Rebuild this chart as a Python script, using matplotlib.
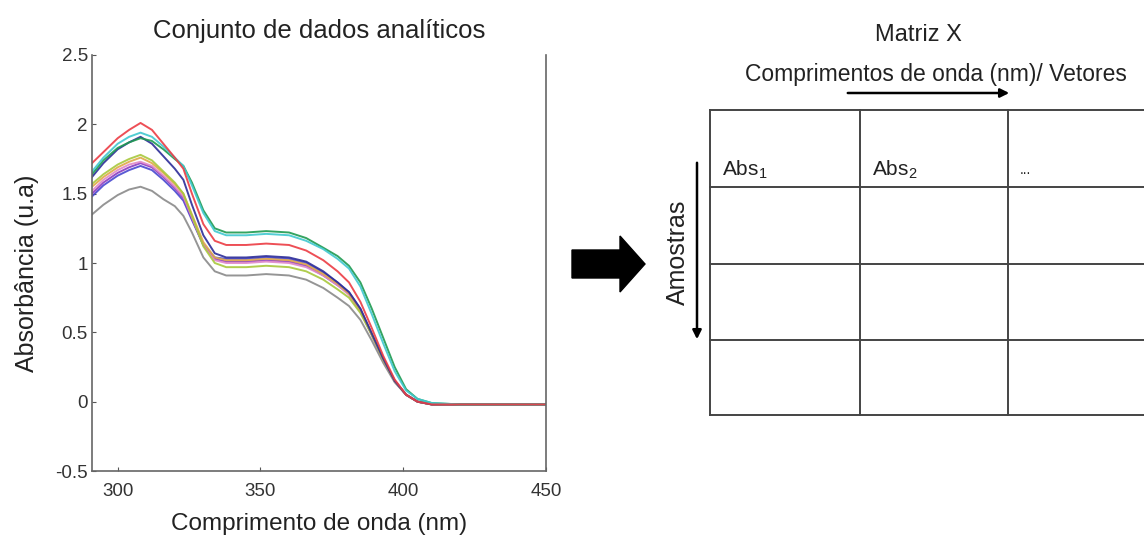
import matplotlib
matplotlib.use('Agg')
import matplotlib.pyplot as plt
from matplotlib import font_manager
from matplotlib.patches import FancyArrow

# Pick a narrow Arial-like family if available
names = set(f.name for f in font_manager.fontManager.ttflist)
fam = 'Liberation Sans Narrow' if 'Liberation Sans Narrow' in names else 'Liberation Sans'
plt.rcParams['font.family'] = [fam, 'DejaVu Sans']

# ----- Data ----- #
wl = [291, 295, 300, 304, 308, 312, 316, 320, 323, 326, 330, 334, 338, 345, 352,
      360, 366, 372, 377, 381, 385, 389, 393, 397, 401, 405, 410, 420, 430, 440, 450]

abs_red = [1.72, 1.80, 1.90, 1.96, 2.01, 1.96, 1.86, 1.76, 1.68, 1.50, 1.28, 1.16, 1.13, 1.13, 1.14,
           1.13, 1.09, 1.02, 0.94, 0.86, 0.72, 0.53, 0.33, 0.16, 0.05, 0.00, -0.02, -0.02, -0.02, -0.02, -0.02]
abs_cyan = [1.66, 1.76, 1.86, 1.91, 1.94, 1.91, 1.84, 1.76, 1.70, 1.56, 1.36, 1.23, 1.20, 1.20, 1.21,
            1.20, 1.16, 1.10, 1.03, 0.96, 0.83, 0.63, 0.42, 0.22, 0.08, 0.02, -0.01, -0.02, -0.02, -0.02, -0.02]
abs_green = [1.64, 1.74, 1.83, 1.87, 1.90, 1.88, 1.82, 1.75, 1.70, 1.58, 1.38, 1.25, 1.22, 1.22, 1.23,
             1.22, 1.18, 1.11, 1.05, 0.98, 0.86, 0.67, 0.46, 0.25, 0.09, 0.02, -0.01, -0.02, -0.02, -0.02, -0.02]
abs_navy = [1.62, 1.72, 1.82, 1.87, 1.91, 1.86, 1.77, 1.68, 1.60, 1.42, 1.20, 1.07, 1.04, 1.04, 1.05,
            1.04, 1.01, 0.94, 0.86, 0.79, 0.67, 0.49, 0.31, 0.15, 0.05, 0.00, -0.02, -0.02, -0.02, -0.02, -0.02]
abs_ygreen = [1.57, 1.64, 1.71, 1.75, 1.78, 1.74, 1.66, 1.58, 1.50, 1.34, 1.12, 1.00, 0.97, 0.97, 0.98,
              0.97, 0.94, 0.88, 0.81, 0.75, 0.64, 0.48, 0.30, 0.15, 0.05, 0.00, -0.02, -0.02, -0.02, -0.02, -0.02]
abs_orange = [1.55, 1.62, 1.69, 1.73, 1.76, 1.72, 1.65, 1.57, 1.50, 1.35, 1.15, 1.04, 1.02, 1.02, 1.03,
              1.02, 0.99, 0.92, 0.85, 0.78, 0.66, 0.49, 0.31, 0.15, 0.05, 0.00, -0.02, -0.02, -0.02, -0.02, -0.02]
abs_pink = [1.52, 1.60, 1.67, 1.71, 1.73, 1.70, 1.63, 1.55, 1.48, 1.33, 1.13, 1.02, 1.00, 1.00, 1.01,
            1.00, 0.97, 0.91, 0.84, 0.77, 0.65, 0.48, 0.30, 0.15, 0.05, 0.00, -0.02, -0.02, -0.02, -0.02, -0.02]
abs_purple = [1.50, 1.58, 1.65, 1.69, 1.72, 1.69, 1.62, 1.54, 1.47, 1.32, 1.13, 1.03, 1.01, 1.01, 1.02,
              1.01, 0.98, 0.91, 0.84, 0.78, 0.66, 0.48, 0.30, 0.15, 0.05, 0.00, -0.02, -0.02, -0.02, -0.02, -0.02]
abs_blue = [1.48, 1.56, 1.63, 1.67, 1.70, 1.67, 1.60, 1.52, 1.45, 1.31, 1.13, 1.04, 1.03, 1.03, 1.04,
            1.03, 1.00, 0.93, 0.86, 0.79, 0.67, 0.49, 0.31, 0.15, 0.05, 0.00, -0.02, -0.02, -0.02, -0.02, -0.02]
abs_gray = [1.35, 1.42, 1.49, 1.53, 1.55, 1.52, 1.46, 1.41, 1.34, 1.22, 1.04, 0.94, 0.91, 0.91, 0.92,
            0.91, 0.88, 0.82, 0.75, 0.69, 0.59, 0.44, 0.28, 0.14, 0.05, 0.00, -0.02, -0.02, -0.02, -0.02, -0.02]

series = [abs_gray, abs_blue, abs_purple, abs_pink, abs_orange, abs_ygreen,
          abs_navy, abs_green, abs_cyan, abs_red]
colors = ['#8a8a8a', '#4848d0', '#8a3cc0', '#e088c8', '#e0a848', '#a8c83c',
          '#2c2c98', '#1e9a50', '#40c8d0', '#ec3c44']

yticks = [-0.5, 0, 0.5, 1, 1.5, 2, 2.5]
yticklabels = ['-0.5', '0', '0.5', '1', '1.5', '2', '2.5']
xticks = [300, 350, 400, 450]

headers = ['$\\mathregular{Abs_1}$', '$\\mathregular{Abs_2}$', '...']

# ----- Figure ----- #
W, H = 1144, 538
fig = plt.figure(figsize=(W / 100, H / 100), dpi=100)

ax = fig.add_axes([92 / W, 1 - 471 / H, (546 - 92) / W, (471 - 55) / H])
for y, c in zip(series, colors):
    ax.plot(wl, y, color=c, lw=1.4, alpha=0.9)
ax.set_xlim(291, 450)
ax.set_ylim(-0.5, 2.5)
ax.set_xticks(xticks)
ax.set_yticks(yticks)
ax.set_yticklabels(yticklabels)
ax.tick_params(direction='in', length=3, width=0.8, colors='#555555',
               labelcolor='#333333', labelsize=13.5)
ax.tick_params(axis='x', pad=9)
ax.tick_params(axis='y', pad=3)
for s in ['left', 'bottom', 'right']:
    ax.spines[s].set_color('#666666')
    ax.spines[s].set_linewidth(1.2)
ax.spines['top'].set_visible(False)
ax.set_title('Conjunto de dados analíticos', fontsize=18.5, pad=12, color='#222222')
ax.set_xlabel('Comprimento de onda (nm)', fontsize=17.5, labelpad=9, color='#222222')
ax.set_ylabel('Absorbância (u.a)', fontsize=18, color='#222222')
ax.yaxis.set_label_coords(-0.117, 0.476)

# Overlay axes in pixel coordinates for the matrix diagram
dax = fig.add_axes([0, 0, 1, 1])
dax.set_xlim(0, W)
dax.set_ylim(H, 0)
dax.axis('off')

# Big block arrow
dax.add_patch(FancyArrow(572, 264, 73, 0, width=28, head_width=56, head_length=25,
                         length_includes_head=True, color='black'))

dax.text(918, 35, 'Matriz X', fontsize=17, ha='center', va='center', color='#222222')
dax.text(936, 75, 'Comprimentos de onda (nm)/ Vetores', fontsize=16.5, ha='center',
         va='center', color='#222222')
dax.annotate('', xy=(1012, 93), xytext=(845, 93),
             arrowprops=dict(arrowstyle='-|>', color='black', lw=1.8, mutation_scale=13))
dax.annotate('', xy=(697, 342), xytext=(697, 160),
             arrowprops=dict(arrowstyle='-|>', color='black', lw=1.8, mutation_scale=13))
dax.text(678, 252, 'Amostras', fontsize=18, rotation=90, ha='center', va='center',
         color='#222222')

# Table grid
col_x = [710, 860, 1008]
row_y = [110, 187, 264, 340, 415]
for yy in row_y:
    dax.plot([710, W + 5], [yy, yy], color='#444444', lw=1.4)
for xx in col_x:
    dax.plot([xx, xx], [110, 415], color='#444444', lw=1.4)
for xx, t in zip(col_x, headers):
    dax.text(xx + 12, 170, t, fontsize=15 if t != '...' else 10, ha='left', va='center',
             color='#222222')

fig.savefig('out.png', dpi=100)
